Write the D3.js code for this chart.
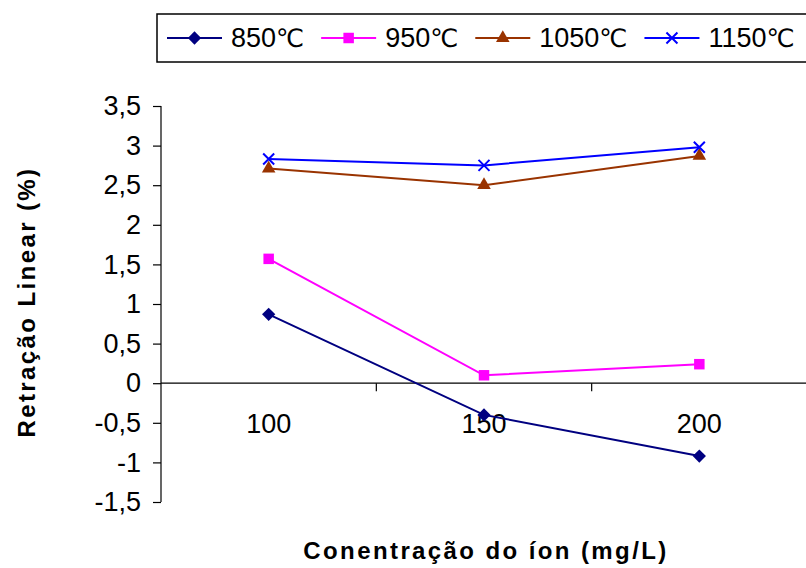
<!DOCTYPE html>
<html>
<head>
<meta charset="utf-8">
<script src="https://cdn.jsdelivr.net/npm/d3@7"></script>
<style>
  html, body { margin: 0; padding: 0; background: #fff; }
  svg { display: block; }
  text { font-family: "Liberation Sans", Arial, sans-serif; fill: #000; }
  .unit { font-family: "DejaVu Sans", sans-serif; }
</style>
</head>
<body>
<svg id="chart" width="806" height="568"></svg>
<script>
// Ion concentration (mg/L) categories
const categories = ["100", "150", "200"];

// Linear shrinkage (%) per firing temperature
const series850  = [0.87, -0.40, -0.92];
const series950  = [1.57, 0.10, 0.24];
const series1050 = [2.71, 2.50, 2.87];
const series1150 = [2.83, 2.75, 2.98];

const seriesNames = ["850℃", "950℃", "1050℃", "1150℃"];
const yTicks = [-1.5, -1, -0.5, 0, 0.5, 1, 1.5, 2, 2.5, 3, 3.5];

const xTitle = "Conentração do íon (mg/L)";
const yTitle = "Retração Linear (%)";

const series = [
  { name: seriesNames[0], values: series850,  color: "#000080", marker: "diamond" },
  { name: seriesNames[1], values: series950,  color: "#FF00FF", marker: "square" },
  { name: seriesNames[2], values: series1050, color: "#993300", marker: "triangle" },
  { name: seriesNames[3], values: series1150, color: "#0000FF", marker: "x" }
];

const svg = d3.select("#chart");

const plot = { left: 161, right: 807, top: 106, bottom: 502 };

const x = d3.scaleBand().domain(categories).range([plot.left, plot.right]);
const y = d3.scaleLinear().domain([-1.5, 3.5]).range([plot.bottom, plot.top]);
const cx = c => x(c) + x.bandwidth() / 2;

const fmt = v => String(v).replace(".", ",");

// Y axis
const yAxis = svg.append("g")
  .attr("transform", `translate(${plot.left},0)`)
  .call(d3.axisLeft(y).tickValues(yTicks).tickFormat(fmt).tickSize(8).tickPadding(12));
yAxis.select(".domain").attr("stroke", "#000").attr("stroke-width", 1.2).attr("d", `M0,${plot.top}V${plot.bottom}`);
yAxis.selectAll(".tick line").attr("stroke", "#000").attr("stroke-width", 1.2);
yAxis.selectAll(".tick text").attr("font-size", 27).attr("font-family", null);

// X axis along the zero line, ticks between categories
const zeroY = y(0);
svg.append("line")
  .attr("x1", plot.left).attr("x2", plot.right)
  .attr("y1", zeroY).attr("y2", zeroY)
  .attr("stroke", "#000").attr("stroke-width", 1.2);

svg.append("g").selectAll("line")
  .data(categories.slice(1))
  .join("line")
  .attr("x1", d => x(d)).attr("x2", d => x(d))
  .attr("y1", zeroY).attr("y2", zeroY + 8)
  .attr("stroke", "#000").attr("stroke-width", 1.2);

svg.append("g").selectAll("text")
  .data(categories)
  .join("text")
  .attr("x", d => cx(d))
  .attr("y", zeroY + 50)
  .attr("text-anchor", "middle")
  .attr("font-size", 27)
  .text(d => d);

// Markers
function drawMarker(sel, type, color) {
  if (type === "diamond") {
    sel.append("path")
      .attr("d", d3.symbol(d3.symbolSquare, 88)())
      .attr("transform", "rotate(45)")
      .attr("fill", color);
  } else if (type === "square") {
    sel.append("path")
      .attr("d", d3.symbol(d3.symbolSquare, 110)())
      .attr("fill", color);
  } else if (type === "triangle") {
    sel.append("path")
      .attr("d", d3.symbol(d3.symbolTriangle, 80)())
      .attr("fill", color);
  } else if (type === "x") {
    const r = 5.5;
    sel.append("path")
      .attr("d", `M${-r},${-r}L${r},${r}M${-r},${r}L${r},${-r}`)
      .attr("stroke", color).attr("stroke-width", 2).attr("fill", "none");
  }
}

const line = d3.line()
  .x((d, i) => cx(categories[i]))
  .y(d => y(d));

series.forEach(s => {
  const g = svg.append("g");
  g.append("path")
    .attr("d", line(s.values))
    .attr("fill", "none")
    .attr("stroke", s.color)
    .attr("stroke-width", 2);
  g.selectAll("g.pt")
    .data(s.values)
    .join("g")
    .attr("class", "pt")
    .attr("transform", (d, i) => `translate(${cx(categories[i])},${y(d)})`)
    .each(function () { drawMarker(d3.select(this), s.marker, s.color); });
});

// Axis titles
svg.append("text")
  .attr("x", 486).attr("y", 559)
  .attr("text-anchor", "middle")
  .attr("font-size", 24)
  .attr("font-weight", "bold")
  .attr("letter-spacing", 2.4)
  .text(xTitle);

svg.append("text")
  .attr("transform", "translate(27,302) rotate(-90)")
  .attr("dy", "0.35em")
  .attr("text-anchor", "middle")
  .attr("font-size", 24)
  .attr("font-weight", "bold")
  .attr("letter-spacing", 2.4)
  .text(yTitle);

// Legend
const legend = svg.append("g");
legend.append("rect")
  .attr("x", 157).attr("y", 14)
  .attr("width", 700).attr("height", 48)
  .attr("fill", "#fff").attr("stroke", "#000").attr("stroke-width", 1.5);

let lx = 167;
const ly = 38;
series.forEach(s => {
  const item = legend.append("g");
  item.append("line")
    .attr("x1", lx).attr("x2", lx + 55)
    .attr("y1", ly).attr("y2", ly)
    .attr("stroke", s.color).attr("stroke-width", 2);
  const m = item.append("g").attr("transform", `translate(${lx + 27.5},${ly})`);
  drawMarker(m, s.marker, s.color);
  const t = item.append("text")
    .attr("x", lx + 64).attr("y", ly)
    .attr("dy", "0.35em")
    .attr("font-size", 27);
  // number in the main face, the degree-Celsius sign in a face that draws it as one glyph
  const num = s.name.replace("℃", "");
  t.append("tspan").text(num);
  t.append("tspan").attr("class", "unit").attr("font-size", 25).text("℃");
  lx = lx + 64 + t.node().getComputedTextLength() + 17;
});
</script>
</body>
</html>
